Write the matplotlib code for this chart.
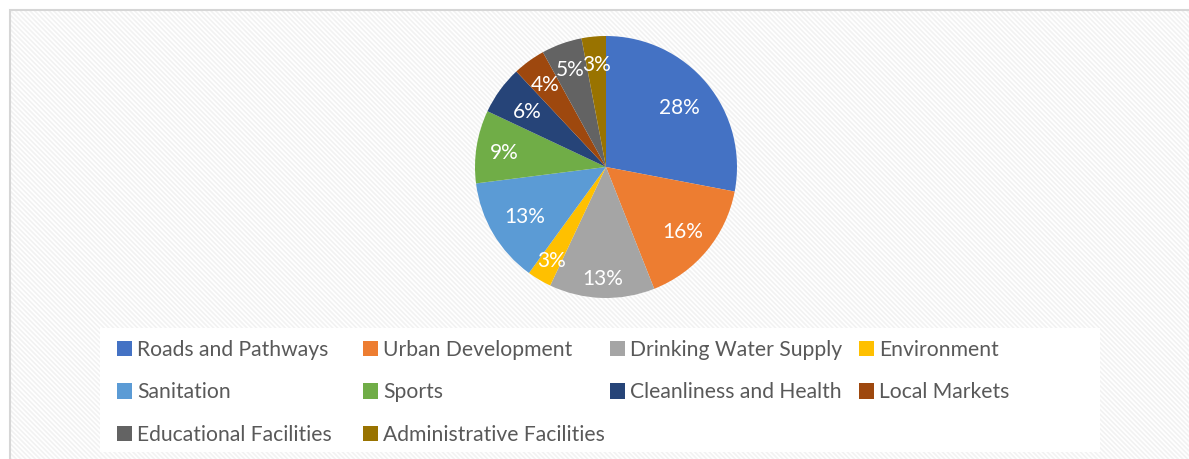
import numpy as np
import matplotlib.pyplot as plt
from matplotlib.patches import Rectangle

# data
categories = ["Roads and Pathways", "Urban Development", "Drinking Water Supply",
              "Environment", "Sanitation", "Sports", "Cleanliness and Health",
              "Local Markets", "Educational Facilities", "Administrative Facilities"]
shares = [28, 16, 13, 3, 13, 9, 6, 4, 5, 3]
colors = ["#4472C4", "#ED7D31", "#A5A5A5", "#FFC000", "#5B9BD5",
          "#70AD47", "#264478", "#9E480E", "#636363", "#997300"]
# label distance from centre (fraction of radius), like Excel's "best fit"
label_r = [0.73, 0.76, 0.84, 0.82, 0.72, 0.79, 0.74, 0.79, 0.80, 0.80]

plt.rcParams['font.family'] = ['Lato', 'DejaVu Sans']
plt.rcParams['hatch.linewidth'] = 1.2

W, H = 1189, 459
fig = plt.figure(figsize=(W / 100, H / 100), dpi=100)
fig.patch.set_facecolor("white")

# chart area: hatched background + light border
fig.patches.append(Rectangle((10 / W, -0.05), 1.1, (H - 10) / H + 0.05, transform=fig.transFigure,
                             facecolor="white", edgecolor="#f2f2f2", hatch="\\" * 7, lw=0, zorder=0))
fig.patches.append(Rectangle((10 / W, -0.05), 1.1, (H - 10) / H + 0.05, transform=fig.transFigure,
                             facecolor="none", edgecolor="#d6d6d6", lw=1.5, zorder=1))
# white legend panel
fig.patches.append(Rectangle((100 / W, (H - 452) / H), 1000 / W, 124 / H, transform=fig.transFigure,
                             facecolor="white", edgecolor="none", zorder=2))

# pie
cx, cy, r = 606, 167, 131
ax = fig.add_axes([(cx - r) / W, (H - cy - r) / H, 2 * r / W, 2 * r / H])
ax.set_zorder(4)
wedges, texts, autotexts = ax.pie(shares, colors=colors, startangle=90, counterclock=False,
                                  autopct="%1.0f%%", pctdistance=0.76,
                                  wedgeprops=dict(linewidth=0),
                                  textprops=dict(color="white", fontsize=15))
for w, t, d in zip(wedges, autotexts, label_r):
    ang = np.deg2rad((w.theta1 + w.theta2) / 2)
    t.set_position((d * np.cos(ang), d * np.sin(ang)))
    t.set_va("center_baseline")
ax.set_xlim(-1, 1)
ax.set_ylim(-1, 1)
ax.set_aspect("equal")
ax.axis("off")

# legend, laid out as 4 columns filled row by row
col_x = [113, 359, 606, 855]
top_y = 336
for c in range(4):
    idx = list(range(c, len(categories), 4))
    leg = fig.legend([wedges[i] for i in idx], [categories[i] for i in idx],
                     loc="upper left", bbox_to_anchor=(col_x[c] / W, (H - top_y) / H),
                     bbox_transform=fig.transFigure, frameon=False, fontsize=15.2,
                     labelcolor="#595959", handlelength=0.72, handleheight=0.72,
                     handletextpad=0.22, labelspacing=1.05, borderpad=0.2, borderaxespad=0)
    leg.set_zorder(5)

plt.savefig("out.png", dpi=100)
